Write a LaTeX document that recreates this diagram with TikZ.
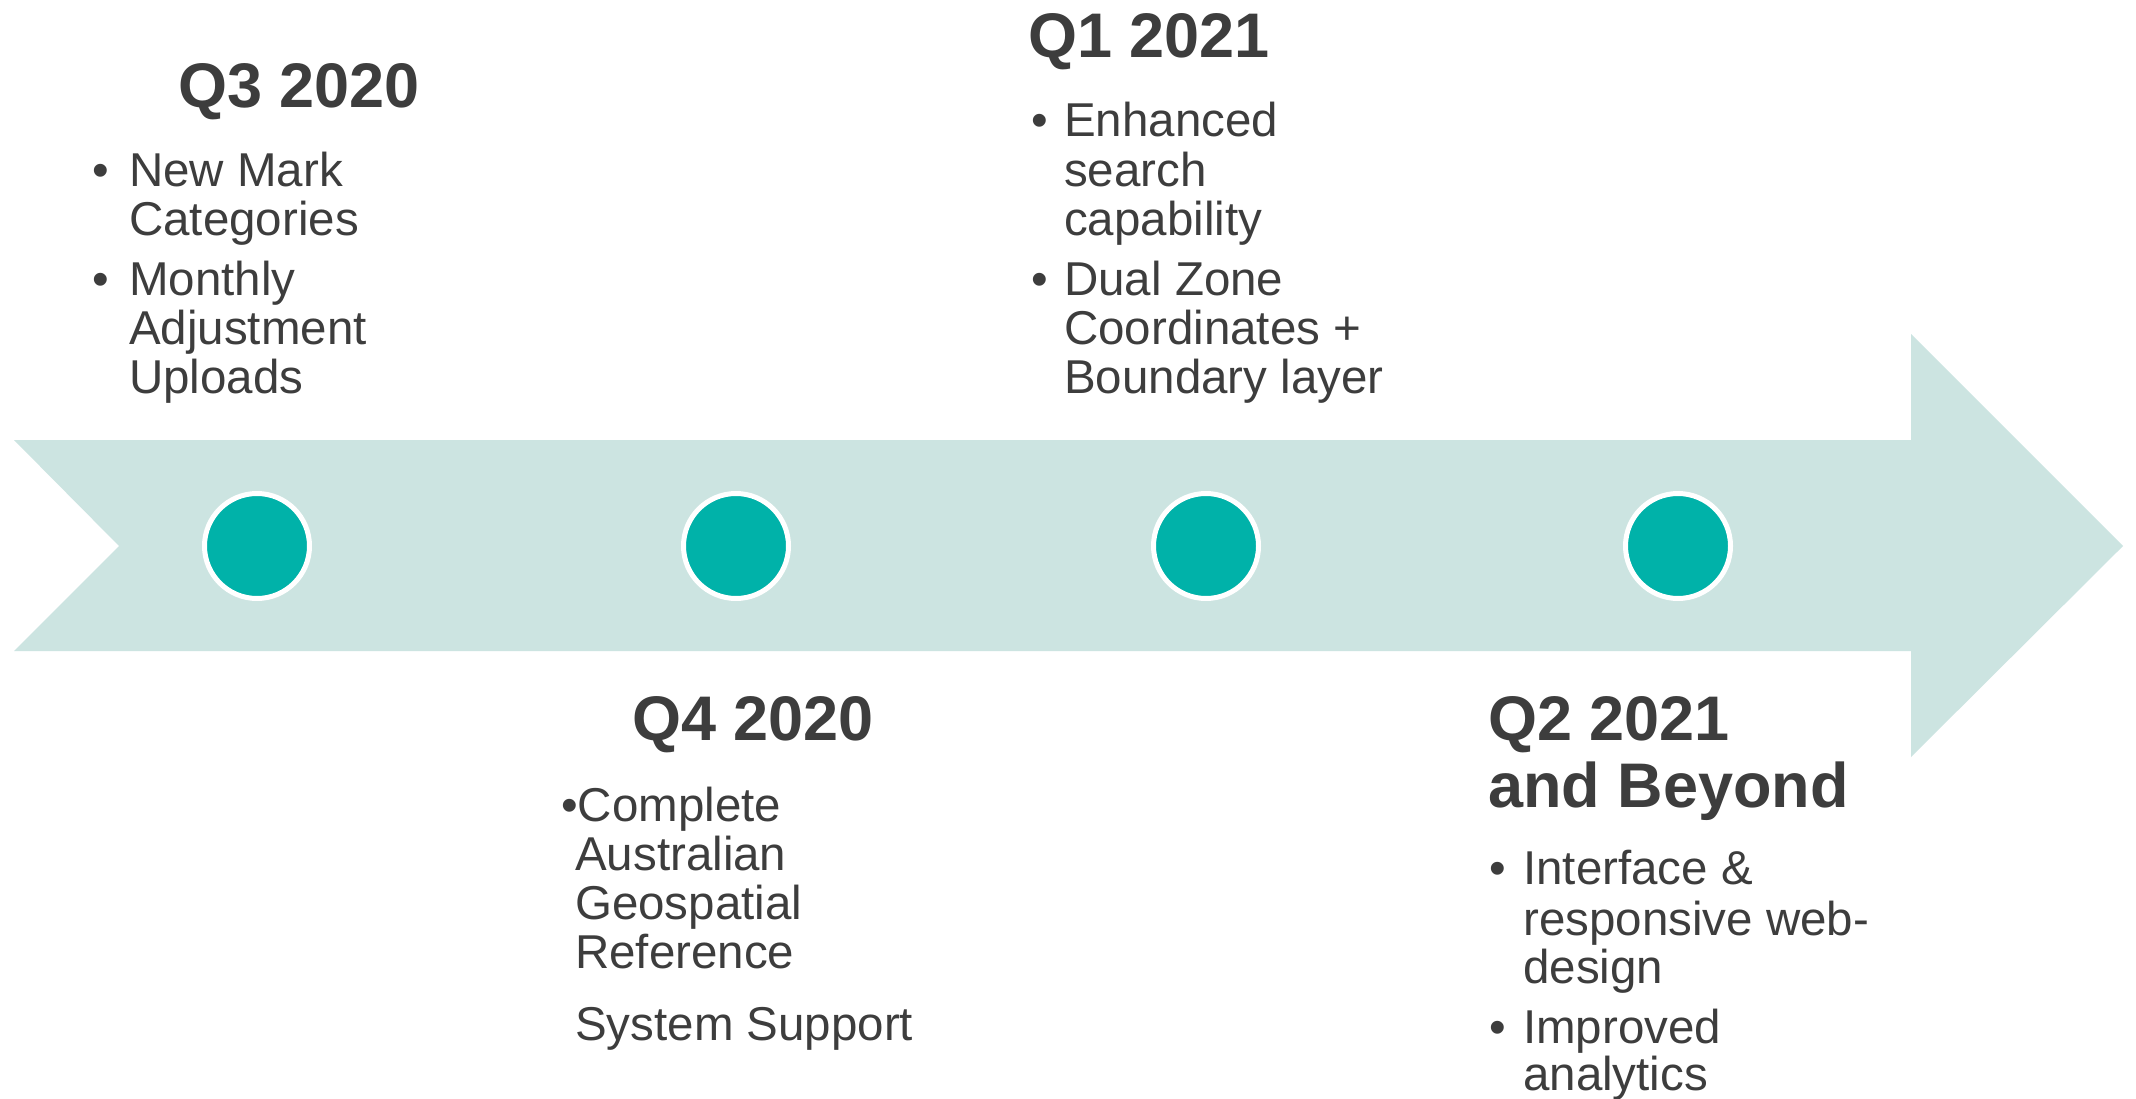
\documentclass[tikz,border=0pt]{standalone}
\usepackage{fontspec}
\setmainfont{Liberation Sans}
\definecolor{band}{RGB}{204,228,225}
\definecolor{teal}{RGB}{0,178,169}
\definecolor{ink}{RGB}{61,61,61}
\begin{document}
\begin{tikzpicture}[x=1pt,y=-1pt,
  head/.style={anchor=base west,inner sep=0pt,text=ink,font=\fontsize{63}{67}\selectfont\bfseries},
  body/.style={anchor=base west,inner sep=0pt,text=ink,font=\fontsize{47.5}{49}\selectfont},
  dot/.style={anchor=base,inner sep=0pt,text=ink,font=\fontsize{47.5}{49}\selectfont},
  milestone/.style={circle,fill=teal,draw=white,line width=5pt,minimum size=105pt,inner sep=0pt}]
\useasboundingbox (0,0) rectangle (2136,1099);
\fill[white] (0,0) rectangle (2136,1099);
% arrow band
\fill[band] (14,440) -- (1911,440) -- (1911,334) -- (2123,546) -- (1911,757)
  -- (1911,651) -- (14,651) -- (119,546) -- cycle;
% milestones
\node[milestone] (m1) at (257,546) {};
\node[milestone] (m2) at (736,546) {};
\node[milestone] (m3) at (1206,546) {};
\node[milestone] (m4) at (1678,546) {};
% Q3 2020
\node[head] (h1) at (178,108) {Q3 2020};
\node[dot] (b11) at (101,187) {•};
\node[body] (t11) at (129,187) {New Mark};
\node[body] (t12) at (129,236) {Categories};
\node[dot] (b12) at (101,295) {•};
\node[body] (t13) at (129,295) {Monthly};
\node[body] (t14) at (129,344) {Adjustment};
\node[body] (t15) at (129,393) {Uploads};
% Q1 2021
\node[head] (h3) at (1028,58) {Q1 2021};
\node[dot] (b31) at (1040,137) {•};
\node[body] (t31) at (1064,137) {Enhanced};
\node[body] (t32) at (1064,187) {search};
\node[body] (t33) at (1064,236) {capability};
\node[dot] (b32) at (1040,295) {•};
\node[body] (t34) at (1064,295) {Dual Zone};
\node[body] (t35) at (1064,344) {Coordinates +};
\node[body] (t36) at (1064,393) {Boundary layer};
% Q4 2020
\node[head] (h2) at (632,740) {Q4 2020};
\node[body] (t21) at (561,821) {•Complete};
\node[body] (t22) at (575,870) {Australian};
\node[body] (t23) at (575,919) {Geospatial};
\node[body] (t24) at (575,968) {Reference};
\node[body] (t25) at (575,1040) {System Support};
% Q2 2021 and Beyond
\node[head] (h4) at (1488,740) {Q2 2021};
\node[head] (h4b) at (1488,807) {and Beyond};
\node[dot] (b41) at (1498,884) {•};
\node[body] (t41) at (1523,884) {Interface \&};
\node[body] (t42) at (1523,935) {responsive web-};
\node[body] (t43) at (1523,983) {design};
\node[dot] (b42) at (1498,1043) {•};
\node[body] (t44) at (1523,1043) {Improved};
\node[body] (t45) at (1523,1090) {analytics};
\end{tikzpicture}
\end{document}
